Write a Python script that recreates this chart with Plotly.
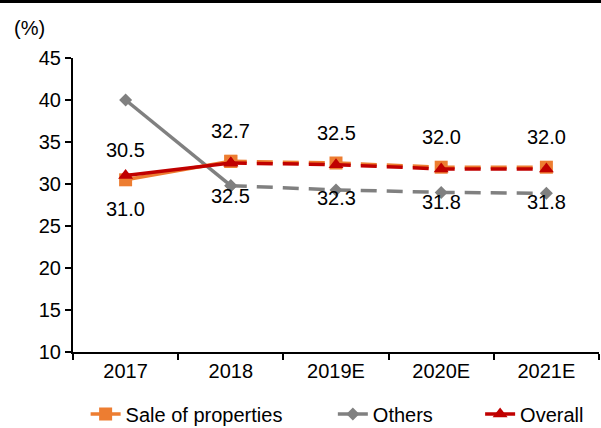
import plotly.graph_objects as go

years = ["2017", "2018", "2019E", "2020E", "2021E"]
sale_of_properties = [30.5, 32.7, 32.5, 32.0, 32.0]
others = [40.0, 29.8, 29.3, 29.0, 28.9]
overall = [31.0, 32.5, 32.3, 31.8, 31.8]

FONT = "Liberation Sans, Arial, sans-serif"
ORANGE = "#ED7D31"
GRAY = "#808080"
RED = "#C00000"
DASH = "16px,10px"

fig = go.Figure()


def add_series(name, values, color, symbol, msize, legend, rank):
    # actual (solid) part: first two years
    fig.add_trace(go.Scatter(
        x=years[:2], y=values[:2], name=name, mode="lines+markers",
        line=dict(color=color, width=3.5),
        marker=dict(symbol=symbol, size=msize, color=color),
        legend=legend, legendrank=rank, showlegend=True,
    ))
    # forecast (dashed) part
    fig.add_trace(go.Scatter(
        x=years[1:], y=values[1:], name=name, mode="lines+markers",
        line=dict(color=color, width=3.5, dash=DASH),
        marker=dict(symbol=symbol, size=msize, color=color),
        showlegend=False,
    ))


add_series("Others", others, GRAY, "diamond", 10, "legend2", 2)
add_series("Sale of properties", sale_of_properties, ORANGE, "square", 13, "legend", 1)
add_series("Overall", overall, RED, "triangle-up", 13, "legend3", 3)

# value labels: sale of properties above, overall below
# (category index used for x so that "2017"/"2018" are not read as numbers)
for i, v in enumerate(sale_of_properties):
    fig.add_annotation(x=i, y=v, text=f"{v:.1f}", showarrow=False, yshift=30,
                       font=dict(family=FONT, size=20, color="black"))
for i, v in enumerate(overall):
    fig.add_annotation(x=i, y=v, text=f"{v:.1f}", showarrow=False, yshift=-33,
                       font=dict(family=FONT, size=20, color="black"))

fig.add_annotation(xref="paper", yref="paper", x=-0.116, y=1.102,
                   xanchor="left", yanchor="middle", text="(%)", showarrow=False,
                   font=dict(family=FONT, size=20, color="black"))

# rule across the top edge
fig.add_shape(type="rect", xref="paper", yref="paper",
              x0=-0.2, x1=1.2, y0=(352 - 3) / 294, y1=1.3,
              fillcolor="black", line=dict(width=0), layer="above")

legend_common = dict(orientation="h", yanchor="middle", xanchor="left",
                     yref="container", y=(428 - 414) / 428,
                     font=dict(family=FONT, size=20, color="black"),
                     bgcolor="rgba(0,0,0,0)", borderwidth=0)

fig.update_layout(
    width=601, height=428,
    margin=dict(l=73, r=2, t=58, b=76, autoexpand=False),
    paper_bgcolor="white", plot_bgcolor="white",
    font=dict(family=FONT, size=20, color="black"),
    legend=dict(x=0.024, **legend_common),
    legend2=dict(x=0.494, **legend_common),
    legend3=dict(x=0.774, **legend_common),
    xaxis=dict(type="category", showgrid=False, showline=True, linecolor="black",
               linewidth=2, ticks="outside", tickson="boundaries", ticklen=6,
               tickcolor="black", tickwidth=2, tickfont=dict(size=20),
               range=[-0.5, 4.5]),
    yaxis=dict(range=[10, 45], dtick=5, showgrid=False, showline=True,
               linecolor="black", linewidth=2, ticks="outside", ticklen=6,
               tickcolor="black", tickwidth=2, tickfont=dict(size=20),
               zeroline=False),
)

fig.write_html("out.html")
